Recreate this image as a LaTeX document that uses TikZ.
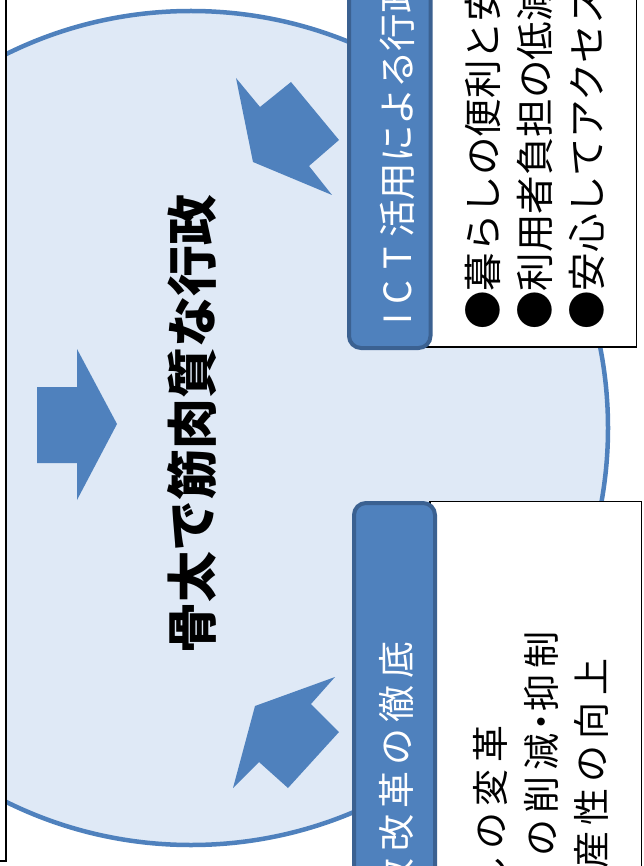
\documentclass[tikz,border=0pt]{standalone}
\usepackage{fontspec}
\newfontfamily\jp{Noto Sans CJK JP}
\newfontfamily\jpwide[LetterSpace=17]{Noto Sans CJK JP}
\definecolor{accent}{HTML}{4F81BD}
\definecolor{accentdark}{HTML}{3B6191}
\definecolor{circfill}{HTML}{DFE9F6}
\begin{document}
\begin{tikzpicture}[x=1pt,y=-1pt,
  hdr/.style={draw=accentdark, fill=accent, line width=4pt, rounded corners=12pt},
  panel/.style={draw=black, fill=white, line width=1.8pt},
  blockarrow/.style={fill=accent, draw=none},
  hdrtext/.style={rotate=90, font=\jp\fontsize{37.5}{40}\selectfont, text=white, inner sep=0pt},
  hdrtextwide/.style={rotate=90, font=\jpwide\fontsize{37}{40}\selectfont, text=white, inner sep=0pt},
  bodytext/.style={rotate=90, font=\jp\fontsize{38.5}{40}\selectfont, text=black, inner sep=0pt},
  bodytextwide/.style={rotate=90, font=\jpwide\fontsize{37}{40}\selectfont, text=black, inner sep=0pt},
  titletext/.style={rotate=90, font=\jp\bfseries\fontsize{51}{54}\selectfont, text=black, inner sep=0pt},
  ]
\useasboundingbox (0,0) rectangle (643,866);
\clip (0,0) rectangle (643,866);
% central circle
\draw[fill=circfill, draw=accent, line width=4.5pt] (191,428) circle (417pt);
% left panel (mostly outside)
\draw[panel] (-20,-20) rectangle (6,861);
% ICT panel
\draw[panel] (420,-20) rectangle (636.5,347);
\draw[hdr] (349,-30) rectangle (430.5,348);
% bottom panel
\draw[panel] (430,501.5) rectangle (641.5,900);
\draw[hdr] (354,503) rectangle (435,920);
% block arrows
\fill[blockarrow] (37,387) -- (77,387) -- (77,349) -- (117,424) -- (77,500) -- (77,463) -- (37,463) -- cycle;
\fill[blockarrow] (236,78) -- (260,107) -- (291,82) -- (339,140) -- (309,166) -- (332,195) -- (253,162) -- cycle;
\fill[blockarrow] (335,677) -- (311,704) -- (339,732) -- (288,788) -- (259,762) -- (233,788) -- (255,706) -- cycle;
% title
\node[titletext] (title) at (192,424) {骨太で筋肉質な行政};
% ICT header and lines
\node[hdrtext, anchor=west] (ictHead) at (397,330) {\makebox[22pt]{I}\makebox[30pt]{C}\makebox[40pt]{T}活用による行政};
\node[bodytext, anchor=west] (ictA) at (483,330) {●暮らしの便利と安心};
\node[bodytext, anchor=west] (ictB) at (535,330) {●利用者負担の低減};
\node[bodytext, anchor=west] (ictC) at (587,330) {●安心してアクセス};
% bottom header and lines
\node[hdrtextwide, anchor=east] (revHead) at (397,641.5) {行財政改革の徹底};
\node[bodytextwide, anchor=east] (revA) at (490,725.5) {暮らしの変革};
\node[bodytextwide, anchor=east] (revB) at (541,631.5) {の削減\hspace{-8pt}・\hspace{-8pt}抑制};
\node[bodytextwide, anchor=east] (revC) at (591,658.5) {生産性の向上};
\end{tikzpicture}
\end{document}
